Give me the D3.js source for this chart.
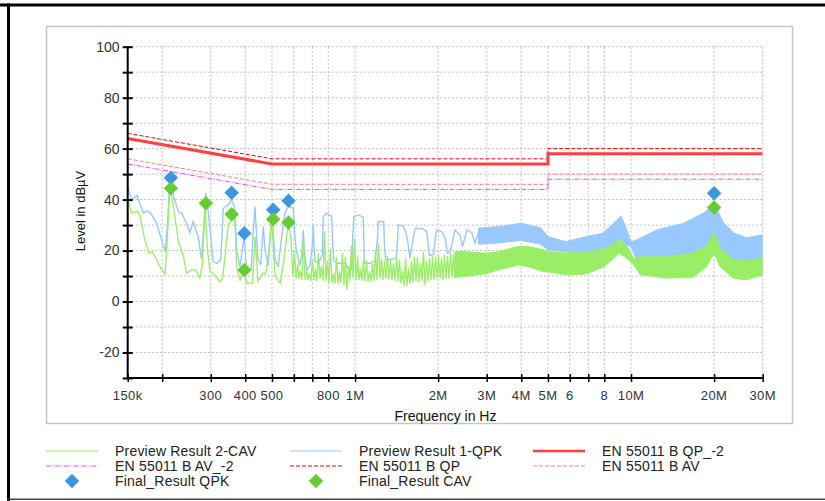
<!DOCTYPE html>
<html>
<head>
<meta charset="utf-8">
<script src="https://cdn.jsdelivr.net/npm/d3@7"></script>
<style>
body { margin: 0; background: #fff; }
svg { display: block; font-family: Arial, "Liberation Sans", sans-serif; }
</style>
</head>
<body>
<div id="chart"></div>
<script>
// preview sweeps, [MHz, dBuV]
const qpkTrace = [
    [0.150,45],[0.153,42],[0.155,39.9],[0.162,41.8],[0.167,37.5],[0.171,34.7],[0.176,35.5],[0.181,35],
    [0.191,30.8],[0.198,25],[0.205,19.6],[0.209,30],[0.213,47.7],[0.219,42],[0.229,35.3],[0.236,34.5],
    [0.245,30.7],[0.252,27],[0.259,31.4],[0.270,25.5],[0.278,16.4],[0.283,30],[0.288,42.5],[0.294,35],
    [0.306,15.7],[0.316,15],[0.326,16.5],[0.333,36.6],[0.347,37.9],[0.357,40],[0.366,37],[0.372,20.3],
    [0.383,13.7],[0.396,25.5],[0.405,12.4],[0.420,12.4],[0.428,28],[0.434,37.3],[0.444,17],[0.455,14.4],
    [0.465,29.4],[0.472,20],[0.485,14],[0.499,36],[0.513,16.4],[0.527,14],[0.542,25.5],[0.557,34.7],
    [0.573,37.3],[0.597,36.6],[0.606,25],[0.612,20.3],[0.631,14],[0.640,18],[0.649,28.1],[0.655,20],
    [0.668,12.4],[0.686,14],[0.700,22],[0.706,30.1],[0.711,20],[0.716,16],[0.736,15],[0.760,18],
    [0.767,33.3],[0.789,34.7],[0.823,33.3],[0.830,22],[0.838,16],[0.857,15],[0.919,15],[0.945,13],
    [0.972,12.4],[0.980,25],[0.990,33.3],[1.03,34],[1.071,33],[1.076,22],[1.08,15],[1.133,15],
    [1.18,16],[1.205,24],[1.214,31.4],[1.27,31.4],[1.278,22],[1.29,16.4],[1.32,16.4],[1.41,17],
    [1.425,24],[1.434,30.1],[1.495,29.5],[1.53,27],[1.56,22],[1.58,17],[1.62,24],[1.65,28.8],
    [1.76,28.5],[1.82,27.5],[1.86,18],[1.924,18.5],[1.95,24],[1.975,28.1],[2.06,27.5],[2.12,25],
    [2.16,19],[2.21,19.5],[2.26,24],[2.30,28.1],[2.40,26],[2.45,21.6],[2.50,25],[2.54,28.1],
    [2.65,27],[2.72,23],[2.78,26],[2.83,28.8]
];
const cavTrace = [
    [0.150,40],[0.155,34.7],[0.162,35.5],[0.166,34],[0.173,24.2],[0.179,19],[0.184,19.6],[0.191,16.4],
    [0.199,12.4],[0.205,10.9],[0.209,25],[0.213,45],[0.219,38],[0.229,23.5],[0.239,17.6],[0.245,11.1],
    [0.255,12.4],[0.264,12.4],[0.274,9.2],[0.280,15],[0.286,37.9],[0.292,20],[0.298,11.8],[0.306,11],
    [0.324,7.8],[0.331,9],[0.338,17.6],[0.347,30.1],[0.357,32],[0.367,32],[0.372,13.7],[0.383,8.5],
    [0.396,12.4],[0.405,7.2],[0.425,7.2],[0.434,25.5],[0.445,8],[0.465,11.1],[0.475,11],[0.487,20],
    [0.499,32],[0.513,10],[0.535,7.2],[0.550,15],[0.573,30.7],[0.585,25],[0.592,15],
    [0.596,9.8],[0.603,20],[0.611,9],[0.619,15],[0.626,9],[0.634,12],[0.642,8.5],[0.650,25.5],
    [0.659,8.5],[0.667,12],[0.675,8.5],[0.683,11],[0.692,8],[0.701,17],[0.710,8.5],[0.719,13],
    [0.728,8],[0.737,19],[0.746,9],[0.755,14],[0.765,8],[0.775,27.5],[0.784,8],[0.794,16],
    [0.804,7.2],[0.814,20.9],[0.825,7.2],[0.835,11],[0.846,7],[0.856,17.6],[0.867,7],[0.878,12],
    [0.889,7.2],[0.900,19],[0.912,6.5],[0.923,17.6],[0.935,4.6],[0.947,14],[0.958,8],[0.970,22],
    [0.983,9],[0.995,24.9],[1.008,8.5],[1.021,18],[1.033,8.5],[1.046,13],[1.059,8],[1.072,16.4],
    [1.086,7.8],[1.100,16.4],[1.114,7.8],[1.128,12],[1.142,7.8],[1.156,15],[1.171,8],[1.186,20],
    [1.200,8.5],[1.215,22.9],[1.231,9],[1.246,17],[1.262,8.5],[1.278,16],[1.294,9],[1.310,18],
    [1.327,8.5],[1.344,16.4],[1.360,8.5],[1.377,15],[1.395,8],[1.413,17.6],[1.430,8],[1.448,16.4],
    [1.467,7],[1.485,12],[1.504,6],[1.523,17],[1.542,6],[1.561,13],[1.581,7],[1.601,16],
    [1.621,7.5],[1.641,17.6],[1.662,8],[1.683,17.6],[1.704,7.5],[1.725,15],[1.748,8],[1.770,19.6],
    [1.792,6.5],[1.815,16],[1.837,8],[1.860,17],[1.884,8.5],[1.908,18],[1.932,8.5],[1.956,17.6],
    [1.981,9],[2.006,18.3],[2.031,9],[2.057,17],[2.083,8.5],[2.109,18.3],[2.135,9],[2.162,18],
    [2.189,9],[2.217,19],[2.244,9.5],[2.272,18.5],[2.301,9.5]
];
// dense part of the sweeps, drawn as envelope [MHz, low, high]
const qpkBand = [
    [2.8,22.5,28.8],[3.3,23,29.4],[4.0,24,30.7],[4.7,22.5,29],[5.0,20.3,25.5],[5.8,19.5,23.5],
    [6.9,19,25.5],[7.9,20,26.8],[8.9,22,32],[9.2,24,33.6],[9.6,22,29],[10.0,21.6,23.5],
    [10.5,16,24.2],[12.4,15.5,28.1],[15.5,15.5,30.7],[18.3,17,34.7],[19.6,19,37.3],[20.1,19,38],
    [21.6,17,31],[23.5,15.5,27],[26.2,15.5,25],[30,16,26.2]
];
const cavBand = [
    [2.3,9.5,19.5],[2.5,9.8,19.6],[3.0,11,19],[3.3,12.4,19.5],[3.9,14.4,21.6],[4.3,13.5,21.5],
    [4.8,11.8,20.3],[5.1,11.5,19.6],[5.8,10.5,19],[6.9,10.8,19.6],[7.9,13.5,20.5],[8.4,15.7,21.6],
    [9.07,19,24.2],[9.77,16.5,21],[10.2,14.4,17],[10.8,10.5,17.5],[13.5,9.2,17.6],[16.8,9.5,19],
    [18.8,13.7,21.6],[20.0,19,26.8],[21.0,13.7,21],[23.5,9.2,16.4],[26.2,8.5,16],[30,10.5,17]
];

// EN 55011 class B limits
const limitFreq = [0.15, 0.5, 5, 5, 30];
const qpLimit   = [66, 56, 56, 60, 60];
const avLimit   = [56, 46, 46, 50, 50];
const qpLimit2  = [64, 54, 54, 58, 58];
const avLimit2  = [54, 44, 44, 48, 48];

// final measurements
const qpkFreq  = [0.215, 0.357, 0.397, 0.505, 0.574, 20.0];
const qpkLevel = [48.6, 42.7, 26.8, 36.0, 39.6, 42.5];
const cavFreq  = [0.215, 0.288, 0.357, 0.397, 0.505, 0.574, 20.0];
const cavLevel = [44.5, 38.6, 34.3, 12.4, 32.3, 31.0, 36.9];

// axes
const xTickValues = [0.15, 0.2, 0.3, 0.4, 0.5, 0.6, 0.7, 0.8, 1, 2, 3, 4, 5, 6, 7, 8, 10, 20, 30];
const xTickLabels = ["150k", "", "300", "400", "500", "", "", "800", "1M", "2M", "3M", "4M", "5M", "6", "", "8", "10M", "20M", "30M"];
const yTickValues = [-30, -20, -10, 0, 10, 20, 30, 40, 50, 60, 70, 80, 90, 100];
const yLabelValues = [-20, 0, 20, 40, 60, 80, 100];

const W = 825, H = 501;
const plot = {left: 127.7, right: 762.7, top: 46.7, bottom: 378};

const svg = d3.select("#chart")
    .append("svg")
    .attr("width", W)
    .attr("height", H);

// outer borders
svg.append("rect").attr("x", 0).attr("y", 3.5).attr("width", W).attr("height", 3).attr("fill", "#000");
svg.append("rect").attr("x", 7).attr("y", 3.5).attr("width", 3).attr("height", H - 3.5).attr("fill", "#000");
svg.append("rect").attr("x", 7).attr("y", 498.5).attr("width", W - 7).attr("height", 1.5).attr("fill", "#444");
svg.append("rect")
    .attr("x", 46.5).attr("y", 26.5)
    .attr("width", 746).attr("height", 397)
    .attr("fill", "none").attr("stroke", "#c4c4c4").attr("stroke-width", 1.5);

const x = d3.scaleLog().domain([0.15, 30]).range([plot.left, plot.right]);
const y = d3.scaleLinear().domain([-30, 100]).range([plot.bottom, plot.top]);

svg.append("clipPath").attr("id", "clip")
    .append("rect")
    .attr("x", plot.left).attr("y", plot.top)
    .attr("width", plot.right - plot.left).attr("height", plot.bottom - plot.top);

// grid
const grid = svg.append("g").attr("stroke", "#bcbcbc").attr("stroke-dasharray", "2,2");
grid.selectAll(".vg").data(xTickValues.slice(1)).enter().append("line")
    .attr("x1", d => x(d)).attr("x2", d => x(d))
    .attr("y1", plot.top).attr("y2", plot.bottom);
grid.selectAll(".hg").data(yTickValues.slice(1)).enter().append("line")
    .attr("x1", plot.left).attr("x2", plot.right)
    .attr("y1", d => y(d)).attr("y2", d => y(d));

const data = svg.append("g").attr("clip-path", "url(#clip)");

const line = d3.line().x(d => x(d[0])).y(d => y(d[1]));
const band = d3.area().x(d => x(d[0])).y0(d => y(d[1])).y1(d => y(d[2]));
const limitLine = d3.line().x((d, i) => x(limitFreq[i])).y(d => y(d));

const qpkColor = "#99c8ff", cavColor = "#99ee66";

data.append("path").datum(qpkBand).attr("d", band)
    .attr("fill", qpkColor).attr("stroke", qpkColor).attr("stroke-width", 1);
data.append("path").datum(qpkTrace).attr("d", line)
    .attr("fill", "none").attr("stroke", qpkColor).attr("stroke-width", 1.4);
data.append("path").datum(cavBand).attr("d", band)
    .attr("fill", cavColor).attr("stroke", cavColor).attr("stroke-width", 1);
data.append("path").datum(cavTrace).attr("d", line)
    .attr("fill", "none").attr("stroke", cavColor).attr("stroke-width", 1.3);

const limits = [
    {values: avLimit2, color: "#ff44ff", width: 1, dash: "5,1.5,1,1.5", label: "EN 55011 B AV_-2"},
    {values: avLimit, color: "#ff8080", width: 1, dash: "4,2", label: "EN 55011 B AV"},
    {values: qpLimit, color: "#e80000", width: 1, dash: "4,2", label: "EN 55011 B QP"},
    {values: qpLimit2, color: "#ff4040", width: 3, dash: null, label: "EN 55011 B QP_-2"}
];
limits.forEach(l => {
    data.append("path").datum(l.values).attr("d", limitLine)
        .attr("fill", "none").attr("stroke", l.color)
        .attr("stroke-width", l.width).attr("stroke-dasharray", l.dash);
});

// diamonds
const diamond = d3.symbol().type(d3.symbolSquare).size(105);
svg.append("g").selectAll("path").data(qpkFreq).enter().append("path")
    .attr("d", diamond)
    .attr("transform", (d, i) => `translate(${x(d)},${y(qpkLevel[i])}) rotate(45)`)
    .attr("fill", "#3d97dd");
svg.append("g").selectAll("path").data(cavFreq).enter().append("path")
    .attr("d", diamond)
    .attr("transform", (d, i) => `translate(${x(d)},${y(cavLevel[i])}) rotate(45)`)
    .attr("fill", "#66cc33");

// axes
const yAxis = svg.append("g")
    .attr("transform", `translate(${plot.left},0)`)
    .call(d3.axisLeft(y).tickValues(yTickValues).tickSize(5).tickFormat(""));
yAxis.selectAll(".tick line").attr("x1", 5).attr("stroke-width", 2);
yAxis.select(".domain").attr("stroke-width", 2).attr("d", `M0,${plot.bottom}V${plot.top}`);

const xAxis = svg.append("g")
    .attr("transform", `translate(0,${plot.bottom})`)
    .call(d3.axisBottom(x).tickValues(xTickValues).tickSize(4).tickFormat(""));
xAxis.selectAll(".tick line").attr("y1", -4).attr("stroke-width", 1.5);
xAxis.select(".domain").attr("stroke-width", 2).attr("d", `M${plot.left},0H${plot.right}`);

svg.append("g").selectAll("text").data(yLabelValues).enter().append("text")
    .attr("x", 119.5).attr("y", d => y(d)).attr("dy", "0.35em")
    .attr("text-anchor", "end").attr("font-size", 14).attr("fill", "#333")
    .text(d => d);

svg.append("g").selectAll("text").data(xTickValues).enter().append("text")
    .attr("x", d => x(d)).attr("y", 395).attr("dy", "0.35em")
    .attr("text-anchor", "middle").attr("font-size", 13).attr("fill", "#333")
    .attr("letter-spacing", 0.4)
    .text((d, i) => xTickLabels[i]);

svg.append("text")
    .attr("x", 445.5).attr("y", 416).attr("dy", "0.35em")
    .attr("text-anchor", "middle").attr("font-size", 14).attr("fill", "#111")
    .text("Frequency in Hz");

svg.append("text")
    .attr("transform", "translate(80,211) rotate(-90)")
    .attr("dy", "0.35em")
    .attr("text-anchor", "middle").attr("font-size", 13).attr("fill", "#111")
    .text("Level in dBµV");

// legend
const legendItems = [
    {label: "Preview Result 2-CAV", color: cavColor, width: 1.2, dash: null},
    {label: "Preview Result 1-QPK", color: qpkColor, width: 1.2, dash: null},
    limits[3], limits[0], limits[2], limits[1],
    {label: "Final_Result QPK", marker: "#3d97dd"},
    {label: "Final_Result CAV", marker: "#66cc33"}
];
const colX = [46, 290, 533], rowY = [451, 466, 481];
legendItems.forEach((d, i) => {
    const g = svg.append("g")
        .attr("transform", `translate(${colX[i % 3]},${rowY[Math.floor(i / 3)]})`);
    if (d.marker) {
        g.append("path").attr("d", diamond)
            .attr("transform", "translate(26,0) rotate(45)")
            .attr("fill", d.marker);
    } else {
        g.append("line").attr("x1", 0).attr("x2", 52)
            .attr("stroke", d.color)
            .attr("stroke-width", d.width === 3 ? 2.5 : 1)
            .attr("stroke-dasharray", d.dash);
    }
    g.append("text")
        .attr("x", 69).attr("dy", "0.35em")
        .attr("font-size", 14).attr("fill", "#222")
        .attr("letter-spacing", 0.2)
        .text(d.label);
});
</script>
</body>
</html>
